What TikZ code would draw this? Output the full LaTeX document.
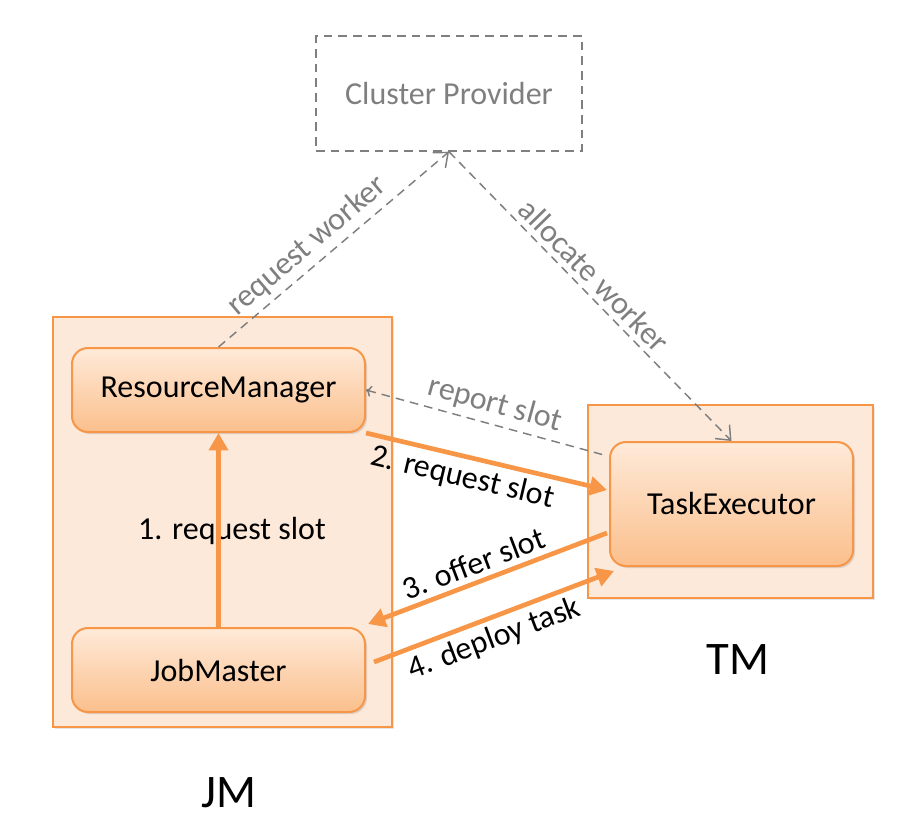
\documentclass[tikz,border=0pt]{standalone}
\usepackage{fontspec}
\setmainfont{Carlito}
\usepackage{tikz}
\usetikzlibrary{arrows.meta,shadows}
\definecolor{slotorange}{HTML}{F79646}
\definecolor{boxfill}{HTML}{FDE9DA}
\definecolor{comptop}{HTML}{FEEAD9}
\definecolor{compbottom}{HTML}{FBBF8C}
\definecolor{infogray}{HTML}{7F7F7F}
\tikzset{
every picture/.style={x=0.75pt,y=-0.75pt},
labelfont/.style={font=\fontsize{24}{28}\selectfont},
provider/.style={draw=infogray, line width=1.1pt, dash pattern=on 6.5pt off 4.5pt,
  minimum width=199.5pt, minimum height=86.25pt, text=infogray, labelfont},
container/.style={draw=slotorange, line width=1.5pt, fill=boxfill,
  drop shadow={opacity=0.2, shadow xshift=1.5pt, shadow yshift=-1.5pt}},
component/.style={draw=slotorange, line width=1.5pt, rounded corners=12pt,
  top color=comptop, bottom color=compbottom, minimum height=63pt, labelfont,
  drop shadow={opacity=0.25, shadow xshift=1.5pt, shadow yshift=-1.5pt}},
caption/.style={font=\fontsize{35}{40}\selectfont},
steplabel/.style={labelfont, inner sep=4pt},
infolabel/.style={labelfont, text=infogray, inner sep=4pt},
call/.style={draw=slotorange, line width=3.5pt, -{Triangle[length=13pt,width=14pt]}},
notify/.style={draw=infogray, line width=1.1pt, dash pattern=on 6.5pt off 4.5pt,
  -{Straight Barb[length=9pt,width=15pt]}}
}

\begin{document}
\begin{tikzpicture}
      \useasboundingbox (0,0) rectangle (912,831);
      \node[provider] (cp) at (449,93.5) {Cluster Provider};
      \node[container, minimum width=254.25pt, minimum height=307.5pt] (jmbox) at (222.5,522) {};
      \node[container, minimum width=213.75pt, minimum height=144.75pt] (tmbox) at (730.5,501.5) {};
      \node[steplabel] (step1) at (232,531) {1. request slot};
      \node[component, minimum width=219.75pt] (rm) at (218.5,390) {ResourceManager};
      \node[component, minimum width=219.75pt] (jm) at (218.5,670) {JobMaster};
      \node[component, minimum width=182.25pt, minimum height=93pt] (te) at (731.5,504) {TaskExecutor};
      \node[caption] (jmname) at (228.5,793) {JM};
      \node[caption] (tmname) at (738,660) {TM};
      \draw[notify] (rm.north) -- node[infolabel, sloped, above, pos=0.44] (reqworker) {request worker} (cp.south);
      \draw[notify] (cp.south) -- node[infolabel, sloped, above, pos=0.47] (allocworker) {allocate worker} (te.north);
      \draw[notify, <-] (rm.east) -- node[infolabel, sloped, above, pos=0.52] (reportslot) {report slot} ([shift={(-5,-49)}]te.west);
      \draw[call] (jm.north) -- (rm.south);
      \draw[call] (rm.south east) -- node[steplabel, sloped, below, pos=0.42] (step2) {2. request slot} ([shift={(-2,-14)}]te.west);
      \draw[call] ([shift={(-2,29)}]te.west) -- node[steplabel, sloped, above, pos=0.53] (step3) {3. offer slot} ([shift={(2,-3)}]jm.north east);
      \draw[call] ([shift={(8,-8)}]jm.east) -- node[steplabel, sloped, below, pos=0.47] (step4) {4. deploy task} ([shift={(5,4)}]te.south west);
    \end{tikzpicture}
\end{document}
